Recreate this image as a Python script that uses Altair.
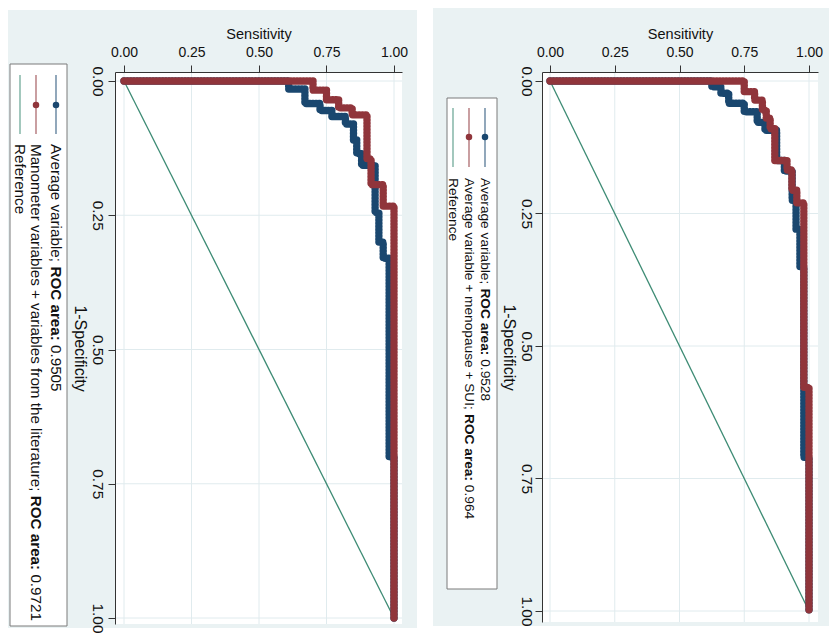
import altair as alt
import pandas as pd

# ---------------- data ----------------
TICK_VALUES = [0.0, 0.25, 0.5, 0.75, 1.0]
REF_SENS = [0.0, 1.0]
REF_FPR = [0.0, 1.0]

# Left panel: "Average variable" (navy) and "Manometer variables + ..." (maroon)
LEFT_AVG_SENS = [0.0, 0.61, 0.61, 0.67, 0.67, 0.726, 0.726, 0.77, 0.77, 0.82, 0.82, 0.85, 0.85,
                 0.862, 0.862, 0.88, 0.88, 0.93, 0.93, 0.944, 0.944, 0.96, 0.96, 0.982, 0.982, 1.0, 1.0]
LEFT_AVG_FPR = [0.0, 0.0, 0.015, 0.015, 0.042, 0.042, 0.055, 0.055, 0.066, 0.066, 0.08, 0.08, 0.11,
                0.11, 0.135, 0.135, 0.157, 0.157, 0.245, 0.245, 0.30, 0.30, 0.33, 0.33, 0.70, 0.70, 1.0]
LEFT_MAN_SENS = [0.0, 0.70, 0.70, 0.75, 0.75, 0.795, 0.795, 0.845, 0.845, 0.90, 0.90, 0.915, 0.915,
                 0.96, 0.96, 1.0, 1.0]
LEFT_MAN_FPR = [0.0, 0.0, 0.017, 0.017, 0.035, 0.035, 0.05, 0.05, 0.063, 0.063, 0.145, 0.145, 0.193,
                0.193, 0.233, 0.233, 1.0]

# Right panel: "Average variable" (navy) and "Average variable + menopause + SUI" (maroon)
RIGHT_AVG_SENS = [0.0, 0.625, 0.625, 0.66, 0.66, 0.69, 0.69, 0.75, 0.75, 0.80, 0.80, 0.83, 0.83,
                  0.875, 0.875, 0.905, 0.905, 0.935, 0.935, 0.95, 0.95, 0.965, 0.965, 0.98, 0.98, 1.0, 1.0]
RIGHT_AVG_FPR = [0.0, 0.0, 0.011, 0.011, 0.023, 0.023, 0.042, 0.042, 0.058, 0.058, 0.078, 0.078, 0.093,
                 0.093, 0.15, 0.15, 0.17, 0.17, 0.225, 0.225, 0.28, 0.28, 0.35, 0.35, 0.71, 0.71, 1.0]
RIGHT_MEN_SENS = [0.0, 0.75, 0.75, 0.79, 0.79, 0.82, 0.82, 0.835, 0.835, 0.85, 0.85, 0.868, 0.868,
                  0.915, 0.915, 0.934, 0.934, 0.953, 0.953, 0.98, 0.98, 1.0, 1.0]
RIGHT_MEN_FPR = [0.0, 0.0, 0.02, 0.02, 0.036, 0.036, 0.055, 0.055, 0.07, 0.07, 0.09, 0.09, 0.15,
                 0.15, 0.168, 0.168, 0.206, 0.206, 0.23, 0.23, 0.578, 0.578, 1.0]

LEFT_LEGEND = [
    [("Average variable; ", False), ("ROC area:", True), (" 0.9505", False)],
    [("Manometer variables + variables from the literature; ", False), ("ROC area:", True), (" 0.9721", False)],
    [("Reference", False)],
]
RIGHT_LEGEND = [
    [("Average variable; ", False), ("ROC area:", True), (" 0.9528", False)],
    [("Average variable + menopause + SUI; ", False), ("ROC area:", True), (" 0.964", False)],
    [("Reference", False)],
]
X_TITLE = "Sensitivity"
Y_TITLE = "1-Specificity"

# ---------------- styles ----------------
NAVY = "#1a476f"
MAROON = "#90353b"
GREEN = "#3d8b74"
PANEL_BG = "#eaf2f3"
GRID = "#e0ebee"
FONT = "Liberation Sans"

W_REG = {' ': 278, '+': 584, '-': 333, '.': 278, ':': 278, ';': 278,
         'A': 667, 'C': 722, 'I': 278, 'M': 833, 'O': 778, 'R': 722, 'S': 667, 'U': 722,
         'a': 556, 'b': 556, 'c': 500, 'd': 556, 'e': 556, 'f': 278, 'g': 556, 'h': 556,
         'i': 222, 'l': 222, 'm': 833, 'n': 556, 'o': 556, 'p': 556, 'r': 333, 's': 500,
         't': 278, 'u': 556, 'v': 500, 'y': 500}
W_BOLD = {' ': 278, ':': 333, 'R': 722, 'O': 778, 'C': 722, 'a': 556, 'r': 389, 'e': 556}


def text_width(s, size, bold=False):
    table = W_BOLD if bold else W_REG
    return sum(table.get(c, 556) for c in s) * size / 1000.0


ONE = pd.DataFrame({"k": [0]})


def vrect(x0, x1, y0, y1, fill, stroke=None):
    kw = dict(fill=fill)
    if stroke:
        kw.update(stroke=stroke, strokeWidth=1)
    return alt.Chart(ONE).mark_rect(**kw).encode(
        x=alt.value(x0), x2=alt.value(x1), y=alt.value(y0), y2=alt.value(y1))


def panel(curves, legend_rows, g):
    W, H = g["W"], g["H"]
    xaxis = alt.Axis(orient="top", values=TICK_VALUES, format=".2f", title=X_TITLE, grid=False,
                     tickSize=7, labelPadding=6, titlePadding=4, labelFlush=False,
                     labelFont=FONT, titleFont=FONT, labelFontSize=14, titleFontSize=14.5,
                     titleFontWeight="normal", labelColor="#111", titleColor="#111",
                     domainColor="#333", tickColor="#333", zindex=1)
    yaxis = alt.Axis(orient="left", values=TICK_VALUES, format=".2f", title=Y_TITLE, grid=False,
                     tickSize=7, labelPadding=g["ylabpad"], titlePadding=1, labelFlush=False,
                     labelAngle=90, labelAlign="center", labelBaseline="top",
                     titleAngle=90, titleBaseline="top",
                     labelFont=FONT, titleFont=FONT, labelFontSize=15.4, titleFontSize=16,
                     titleFontWeight="normal", labelColor="#111", titleColor="#111",
                     domainColor="#333", tickColor="#333", zindex=1)
    X = alt.X("S:Q", scale=alt.Scale(domain=g["xdom"], nice=False, zero=False), axis=xaxis)
    Y = alt.Y("F:Q", scale=alt.Scale(domain=g["ydom"], nice=False, zero=False, reverse=True), axis=yaxis)

    ticks = pd.DataFrame({"S": TICK_VALUES, "F": TICK_VALUES})
    layers = [
        vrect(*g["bg"], fill=PANEL_BG),
        vrect(0, W, 0, H, fill="white"),
        alt.Chart(ticks).mark_rule(color=GRID, strokeWidth=1).encode(x=X, y=alt.value(0), y2=alt.value(H)),
        alt.Chart(ticks).mark_rule(color=GRID, strokeWidth=1).encode(y=Y, x=alt.value(0), x2=alt.value(W)),
        alt.Chart(pd.DataFrame({"S": REF_SENS, "F": REF_FPR, "i": [0, 1]})).mark_line(
            color=GREEN, strokeWidth=1.3).encode(x=X, y=Y, order="i:Q"),
    ]
    for sens, fpr, color in curves:
        df = pd.DataFrame({"S": sens, "F": fpr, "i": list(range(len(sens)))})
        # thin connecting line + chain of round markers (dotted band)
        layers.append(alt.Chart(df).mark_line(color=color, strokeWidth=1.2).encode(
            x=X, y=Y, order="i:Q"))
        layers.append(alt.Chart(df).mark_line(color=color, strokeWidth=7.4, strokeCap="round",
                                              strokeJoin="round", strokeDash=[0.6, 2.6]).encode(
            x=X, y=Y, order="i:Q"))

    # legend (rotated, drawn by hand)
    layers.append(vrect(*g["legend_box"], fill="white", stroke="#7a7a7a"))
    sy0, sy1, dot_y = g["sym_y"]
    colors = [NAVY, MAROON, GREEN]
    for col_x, color, row in zip(g["cols"], colors, legend_rows):
        layers.append(alt.Chart(ONE).mark_rule(color=color, strokeWidth=1.6, opacity=0.6).encode(
            x=alt.value(col_x), y=alt.value(sy0), y2=alt.value(sy1)))
        if color != GREEN:
            layers.append(alt.Chart(ONE).mark_circle(color=color, size=42, opacity=1).encode(
                x=alt.value(col_x), y=alt.value(dot_y)))
        y = g["text_y"]
        for seg, bold in row:
            lead = len(seg) - len(seg.lstrip(" "))
            start = y + text_width(seg[:lead], g["fs"], bold)
            layers.append(alt.Chart(ONE).mark_text(
                angle=90, align="left", baseline="middle", font=FONT, fontSize=g["fs"],
                fontWeight="bold" if bold else "normal", color="#111").encode(
                x=alt.value(col_x), y=alt.value(start), text=alt.value(seg.strip(" "))))
            y += text_width(seg, g["fs"], bold)

    return alt.layer(*layers).properties(width=W, height=H)


LEFT_GEOM = dict(W=287, H=552, xdom=[-9 / 270, 278 / 270], ydom=[-9 / 537, 543 / 537],
                 bg=(-107, 302, -62, 556), legend_box=(-105, -48, -8, 554),
                 cols=[-59, -79, -95], sym_y=(3, 62, 33), text_y=72, fs=15.2, ylabpad=4)
RIGHT_GEOM = dict(W=276, H=550, xdom=[-8 / 259, 268 / 259], ydom=[-9 / 530, 541 / 530],
                  bg=(-109, 287, -64, 554), legend_box=(-95, -45, 26, 517),
                  cols=[-57, -73, -89], sym_y=(36, 95, 65), text_y=106, fs=13.7, ylabpad=2)

left = panel([(LEFT_AVG_SENS, LEFT_AVG_FPR, NAVY), (LEFT_MAN_SENS, LEFT_MAN_FPR, MAROON)],
             LEFT_LEGEND, LEFT_GEOM)
right = panel([(RIGHT_AVG_SENS, RIGHT_AVG_FPR, NAVY), (RIGHT_MEN_SENS, RIGHT_MEN_FPR, MAROON)],
              RIGHT_LEGEND, RIGHT_GEOM)

chart = alt.hconcat(left, right, spacing=16, padding=0, background="white").configure_view(
    stroke=None)

chart.save("out.html", embed_options={"renderer": "svg", "actions": False})
